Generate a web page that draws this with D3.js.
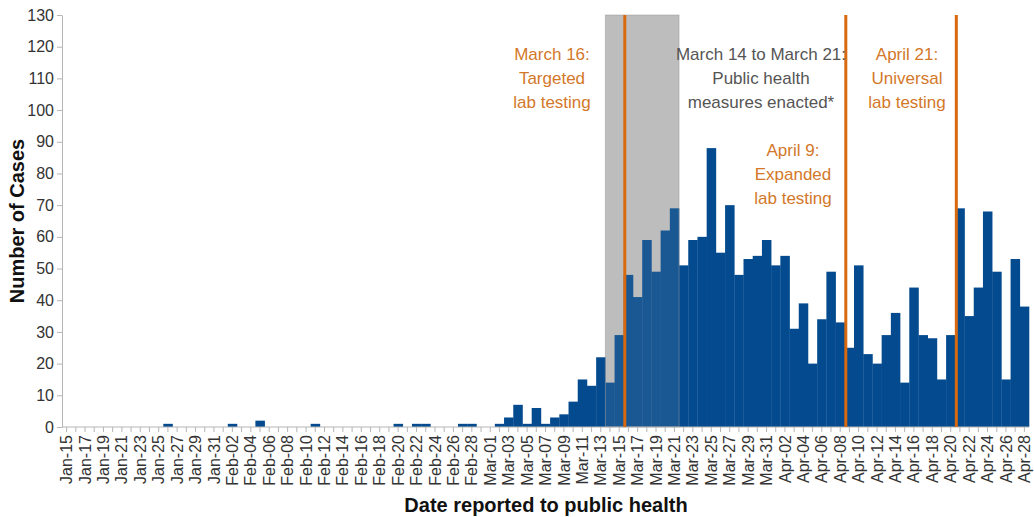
<!DOCTYPE html>
<html lang="en">
<head>
    <meta charset="UTF-8">
    <title>Number of Cases by Date Reported</title>
    <style>
        body {
            margin: 0;
            font-family: "Liberation Sans", Arial, sans-serif;
            background: #fff;
        }
        .axis path, .axis line {
            stroke: #b5b5b5;
        }
        .axis text {
            fill: #333;
        }
        .axis-title {
            font-weight: bold;
            fill: #111;
        }
        .note {
            font-size: 17px;
            text-anchor: middle;
        }
    </style>
</head>
<body>
    <svg id="chart" width="1034" height="517"></svg>
    <script src="https://d3js.org/d3.v7.min.js"></script>
    <script>
        // Dates (2020) and daily counts
        const months = ["Jan", "Feb", "Mar", "Apr"];
        const monthStart = [15, 1, 1, 1];
        const monthEnd = [31, 29, 31, 28];

        const janCases = [0,0,0,0,0,0,0,0,0,0,0,1,0,0,0,0,0];
        const febCases = [0,1,0,0,2,0,0,0,0,0,1,0,0,0,0,0,0,0,0,1,0,1,1,0,0,0,1,1,0];
        const marCases = [0,1,3,7,1,6,1,3,4,8,15,13,22,14,29,48,41,59,49,62,69,51,59,60,88,55,70,48,53,54,59];
        const aprCases = [51,54,31,39,20,34,49,33,25,51,23,20,29,36,14,44,29,28,15,29,69,35,44,68,49,15,53,38];

        const yTicks = [0,10,20,30,40,50,60,70,80,90,100,110,120,130];

        // vertical event lines (day when change took effect) and shaded period
        const events = ["Mar-16", "Apr-09", "Apr-21"];
        const shadeFrom = "Mar-14", shadeTo = "Mar-21";

        const width = 1034, height = 517;
        const margin = { top: 15, right: 5, bottom: 90, left: 62 };

        const pad = n => (n < 10 ? "0" + n : "" + n);
        const dates = [];
        months.forEach((m, i) => {
            for (let d = monthStart[i]; d <= monthEnd[i]; d++) dates.push(m + "-" + pad(d));
        });
        const cases = [].concat(janCases, febCases, marCases, aprCases);
        const data = dates.map((d, i) => ({ date: d, value: cases[i] }));

        const svg = d3.select("#chart");

        const x = d3.scaleBand()
            .domain(dates)
            .range([margin.left, width - margin.right])
            .padding(0);

        const y = d3.scaleLinear()
            .domain([0, 130])
            .range([height - margin.bottom, margin.top]);

        // shaded period behind the bars
        const shadeX0 = x(shadeFrom), shadeX1 = x(shadeTo) + x.bandwidth();
        svg.append("rect")
            .attr("x", shadeX0)
            .attr("y", y(130))
            .attr("width", shadeX1 - shadeX0)
            .attr("height", y(0) - y(130))
            .attr("fill", "#bebebe");

        svg.append("g")
            .selectAll("rect")
            .data(data)
            .join("rect")
            .attr("x", d => x(d.date))
            .attr("y", d => y(d.value))
            .attr("width", x.bandwidth() + 0.3)
            .attr("height", d => y(0) - y(d.value))
            .attr("fill", "#034a8e");

        // light overlay on the shaded period
        svg.append("rect")
            .attr("x", shadeX0)
            .attr("y", y(130))
            .attr("width", shadeX1 - shadeX0)
            .attr("height", y(0) - y(130))
            .attr("fill", "#bebebe")
            .attr("fill-opacity", 0.12)
            .attr("stroke", "#9a9a9a")
            .attr("stroke-opacity", 0.5);

        // axes
        const xAxis = d3.axisBottom(x)
            .tickSize(5)
            .tickFormat((d, i) => (i % 2 === 0 ? d : ""));
        const gx = svg.append("g")
            .attr("class", "axis")
            .attr("transform", `translate(0, ${y(0)})`)
            .call(xAxis);
        gx.select(".domain").attr("d", `M${margin.left},0H${width - margin.right}`);
        gx.selectAll("text")
            .attr("transform", "rotate(-90)")
            .attr("x", -8)
            .attr("y", 0)
            .attr("dy", "0.35em")
            .style("text-anchor", "end")
            .style("font-size", "16px")
            .style("font-family", "Liberation Sans, Arial, sans-serif");

        const gy = svg.append("g")
            .attr("class", "axis")
            .attr("transform", `translate(${margin.left}, 0)`)
            .call(d3.axisLeft(y).tickValues(yTicks).tickSize(5).tickSizeOuter(0));
        gy.selectAll("text")
            .style("font-size", "16px")
            .style("font-family", "Liberation Sans, Arial, sans-serif");

        // event lines
        svg.append("g")
            .selectAll("line")
            .data(events)
            .join("line")
            .attr("x1", d => x(d) + 1)
            .attr("x2", d => x(d) + 1)
            .attr("y1", y(130))
            .attr("y2", y(0))
            .attr("stroke", "#d9690f")
            .attr("stroke-width", 3);

        // axis titles
        svg.append("text")
            .attr("class", "axis-title")
            .attr("x", 546)
            .attr("y", 512)
            .attr("text-anchor", "middle")
            .style("font-size", "20px")
            .text("Date reported to public health");

        svg.append("text")
            .attr("class", "axis-title")
            .attr("transform", `translate(24, ${(y(0) + y(130)) / 2}) rotate(-90)`)
            .attr("text-anchor", "middle")
            .style("font-size", "20px")
            .text("Number of Cases");

        // annotations
        const notes = [
            { cx: 552, top: 60, color: "#d3782a", lines: ["March 16:", "Targeted", "lab testing"] },
            { cx: 761, top: 60, color: "#555555", lines: ["March 14 to March 21:", "Public health", "measures enacted*"] },
            { cx: 793, top: 156, color: "#d3782a", lines: ["April 9:", "Expanded", "lab testing"] },
            { cx: 907, top: 60, color: "#d3782a", lines: ["April 21:", "Universal", "lab testing"] }
        ];
        notes.forEach(n => {
            const t = svg.append("text")
                .attr("class", "note")
                .attr("fill", n.color);
            n.lines.forEach((l, i) => {
                t.append("tspan")
                    .attr("x", n.cx)
                    .attr("y", n.top + i * 24)
                    .text(l);
            });
        });
    </script>
</body>
</html>
